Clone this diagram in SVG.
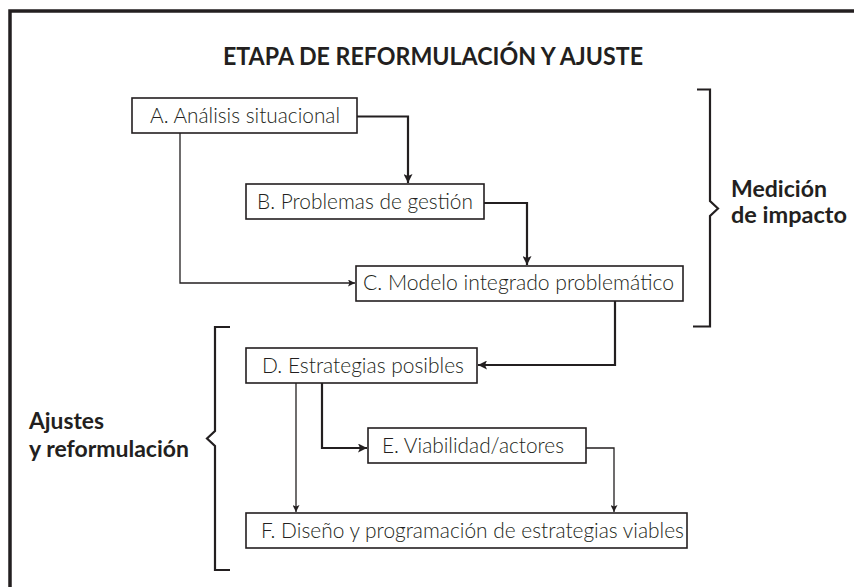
<svg xmlns="http://www.w3.org/2000/svg" width="854" height="587" viewBox="0 0 854 587">
<style>
.box{fill:#fff;stroke:#231f20;stroke-width:1.6}
.lbl{font-family:Lato,"Liberation Sans",sans-serif;font-weight:300;font-size:21px;fill:#231f20}
.bold{font-family:Lato,"Liberation Sans",sans-serif;font-weight:700;fill:#231f20}
.thick{fill:none;stroke:#231f20;stroke-width:2.2}
.thin{fill:none;stroke:#231f20;stroke-width:1.3}
.brk{fill:none;stroke:#231f20;stroke-width:2.2}
</style>
<defs>
<marker id="ah" markerUnits="userSpaceOnUse" markerWidth="10" markerHeight="9" refX="9" refY="4.5" orient="auto">
<path d="M0,0 L9,4.5 L0,9 L2,4.5 z" fill="#231f20"/>
</marker>
<marker id="as" markerUnits="userSpaceOnUse" markerWidth="8" markerHeight="7" refX="7" refY="3.5" orient="auto">
<path d="M0,0 L7,3.5 L0,7 L1.5,3.5 z" fill="#231f20"/>
</marker>
</defs>
<rect width="854" height="587" fill="#fff"/>
<path d="M10,600 V11 H870" fill="none" stroke="#231f20" stroke-width="3.5"/>
<text class="bold" x="223" y="65" font-size="24" textLength="420" lengthAdjust="spacingAndGlyphs">ETAPA DE REFORMULACIÓN Y AJUSTE</text>
<g id="brackets">
<path class="brk" d="M697,89.5 H710 V201 L718,208.5 L710,216 V326.5 H693"/>
<path class="brk" d="M230,327 H215 V431 L207,438.5 L215,446 V570 H230"/>
</g>
<g id="label-medicion">
<text class="bold" x="731" y="197" font-size="22" textLength="96" lengthAdjust="spacingAndGlyphs">Medición</text>
<text class="bold" x="731" y="223" font-size="22" textLength="116" lengthAdjust="spacingAndGlyphs">de impacto</text>
</g>
<g id="label-ajustes">
<text class="bold" x="29" y="429" font-size="22" textLength="75" lengthAdjust="spacingAndGlyphs">Ajustes</text>
<text class="bold" x="29" y="457" font-size="22" textLength="160" lengthAdjust="spacingAndGlyphs">y reformulación</text>
</g>
<g id="connectors">
<path class="thick" d="M357,116.5 H408 V183" marker-end="url(#ah)"/>
<path class="thick" d="M484,203 H527 V265" marker-end="url(#ah)"/>
<path class="thin" d="M180,133 V283 H355" marker-end="url(#as)"/>
<path class="thick" d="M615,301 V365 H478" marker-end="url(#ah)"/>
<path class="thick" d="M322,383 V448 H367" marker-end="url(#ah)"/>
<path class="thin" d="M296,383 V512" marker-end="url(#as)"/>
<path class="thin" d="M586,448 H614 V512" marker-end="url(#as)"/>
</g>
<g id="nodeA">
<rect class="box" x="132" y="98" width="225" height="35"/>
<text class="lbl" x="150" y="122.5" textLength="190" lengthAdjust="spacingAndGlyphs">A. Análisis situacional</text>
</g>
<g id="nodeB">
<rect class="box" x="246" y="184" width="238" height="35"/>
<text class="lbl" x="257" y="208.5" textLength="216" lengthAdjust="spacingAndGlyphs">B. Problemas de gestión</text>
</g>
<g id="nodeC">
<rect class="box" x="356" y="266" width="327" height="35"/>
<text class="lbl" x="363" y="290" textLength="311" lengthAdjust="spacingAndGlyphs">C. Modelo integrado problemático</text>
</g>
<g id="nodeD">
<rect class="box" x="246" y="348" width="231" height="35"/>
<text class="lbl" x="262" y="372.5" textLength="202" lengthAdjust="spacingAndGlyphs">D. Estrategias posibles</text>
</g>
<g id="nodeE">
<rect class="box" x="368" y="428" width="218" height="35"/>
<text class="lbl" x="382" y="452.5" textLength="182" lengthAdjust="spacingAndGlyphs">E. Viabilidad/actores</text>
</g>
<g id="nodeF">
<rect class="box" x="246" y="513" width="441" height="35"/>
<text class="lbl" x="261" y="537.5" textLength="423" lengthAdjust="spacingAndGlyphs">F. Diseño y programación de estrategias viables</text>
</g>
</svg>
